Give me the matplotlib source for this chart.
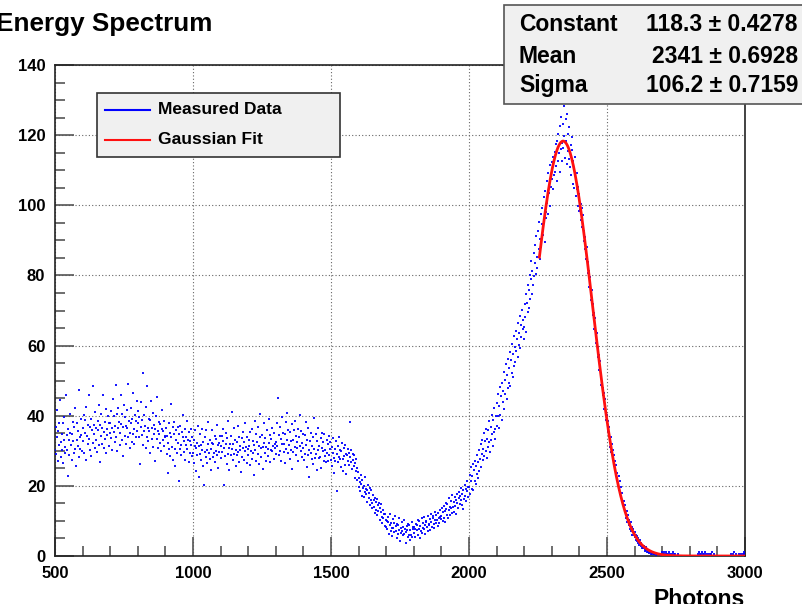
import numpy as np
import matplotlib
matplotlib.use("Agg")
import matplotlib.pyplot as plt
from matplotlib.patches import Rectangle
from matplotlib.lines import Line2D

plt.rcParams['font.family'] = ['Liberation Sans', 'DejaVu Sans']
plt.rcParams['font.weight'] = 'bold'

# bin width 2 photons, one row per 100 photons (500 ... 2998)
bin_start, bin_width = 500, 2
flat_region = [
    [30.3, 36.8, 29.1, 41.6, 33.9, 27.2, 35.5, 38.0, 31.7, 44.4, 32.6, 28.1, 34.9, 30.3, 37.8, 26.5, 33.2, 39.7, 31.0, 29.4, 45.9, 34.6, 30.1, 36.3, 22.7,
     33.2, 28.8, 40.5, 35.0, 31.6, 27.4, 34.9, 38.1, 32.7, 29.3, 36.8, 42.2, 30.5, 25.6, 33.0, 37.9, 31.4, 35.7, 28.1, 47.3, 33.8, 30.5, 39.2, 34.6, 29.9],  # 500
    [36.6, 32.9, 40.2, 29.5, 35.0, 38.7, 27.4, 42.6, 34.1, 31.9, 37.3, 45.8, 33.5, 30.2, 36.7, 39.0, 28.4, 35.9, 48.6, 32.1, 37.3, 34.7, 41.2, 30.8, 36.5,
     33.0, 29.6, 38.4, 35.9, 43.1, 31.7, 37.3, 26.8, 34.2, 40.5, 36.6, 32.0, 45.9, 35.4, 30.7, 38.1, 33.3, 41.8, 29.5, 36.2, 34.6, 39.9, 31.3, 37.8, 35.1],  # 600
    [38.0, 33.7, 41.4, 36.6, 30.1, 44.9, 35.3, 39.8, 32.5, 37.2, 48.7, 34.0, 40.4, 29.9, 36.6, 42.1, 38.3, 31.7, 35.2, 45.8, 37.5, 33.0, 40.6, 28.4, 36.9,
     43.1, 39.7, 34.3, 31.8, 37.2, 41.5, 36.6, 49.0, 33.9, 38.4, 30.7, 35.1, 42.3, 37.8, 32.5, 39.2, 46.6, 34.9, 36.3, 31.8, 40.1, 38.6, 33.9, 44.2, 35.5],  # 700
    [37.9, 41.3, 33.8, 39.5, 26.2, 36.7, 44.0, 34.4, 38.9, 31.6, 52.1, 40.3, 35.7, 37.2, 30.8, 42.5, 34.0, 48.6, 36.4, 32.9, 39.1, 35.7, 29.3, 38.8, 44.2,
     33.5, 36.6, 31.0, 40.9, 37.4, 34.7, 27.1, 36.3, 39.8, 33.5, 45.2, 35.6, 30.9, 38.3, 34.8, 32.1, 37.6, 29.9, 36.2, 41.5, 33.0, 35.7, 31.4, 38.6, 34.1],  # 800
    [33.9, 36.6, 29.1, 34.3, 23.7, 32.2, 37.8, 30.5, 35.0, 28.6, 43.4, 33.9, 31.1, 36.7, 27.3, 34.8, 38.2, 30.5, 25.6, 33.0, 35.9, 29.4, 36.7, 32.1, 21.3,
     34.8, 30.5, 37.2, 31.6, 28.9, 35.3, 33.8, 40.1, 29.6, 32.9, 36.2, 27.5, 34.0, 31.7, 38.4, 30.6, 33.1, 26.9, 35.3, 32.8, 29.5, 36.2, 31.7, 34.0, 28.4],  # 900
    [29.5, 33.0, 26.6, 31.4, 35.9, 24.1, 30.7, 32.3, 28.8, 37.2, 31.5, 22.6, 29.0, 34.9, 27.4, 31.7, 30.1, 36.3, 25.8, 32.5, 20.2, 29.6, 33.9, 28.3, 35.8,
     30.1, 26.6, 31.9, 38.2, 29.5, 33.0, 27.7, 30.4, 24.6, 32.1, 35.9, 28.3, 31.8, 29.5, 34.2, 26.7, 30.0, 33.3, 37.4, 28.9, 31.6, 25.1, 32.3, 29.7, 34.2],  # 1000
    [31.4, 27.9, 34.2, 29.6, 36.1, 32.7, 20.3, 30.8, 28.5, 35.0, 31.9, 26.2, 33.6, 29.1, 38.4, 30.7, 24.5, 32.0, 28.8, 34.3, 30.6, 41.2, 27.4, 31.9, 29.0,
     36.5, 33.2, 25.7, 30.3, 28.9, 32.4, 37.1, 29.6, 26.8, 34.0, 31.5, 30.2, 23.9, 33.7, 28.1, 35.4, 30.9, 27.3, 32.6, 38.0, 29.8, 31.2, 26.5, 33.9, 30.4],  # 1100
    [28.7, 33.1, 31.5, 25.9, 35.3, 30.0, 27.6, 36.2, 32.8, 29.4, 23.1, 31.7, 38.5, 30.3, 34.9, 27.0, 32.6, 29.2, 36.8, 31.4, 26.1, 33.9, 40.5, 30.7, 28.2,
     34.6, 31.0, 24.8, 32.3, 37.9, 29.5, 33.7, 27.2, 31.1, 35.8, 30.4, 28.6, 39.0, 32.2, 26.9, 34.5, 30.1, 33.4, 29.8, 36.6, 31.3, 27.7, 35.2, 30.9, 32.0],  # 1200
    [32.6, 29.2, 37.9, 31.3, 45.1, 28.7, 34.4, 30.0, 36.8, 33.5, 27.1, 31.9, 39.6, 35.2, 29.7, 32.0, 26.4, 34.8, 38.3, 30.5, 33.1, 40.9, 29.4, 36.0, 31.6,
     27.8, 35.3, 32.9, 30.2, 37.5, 24.7, 33.0, 29.6, 35.8, 31.1, 38.4, 28.9, 34.2, 32.5, 30.7, 36.3, 27.0, 33.8, 40.2, 31.4, 29.9, 35.6, 32.1, 28.3, 34.7],  # 1300
    [30.9, 27.3, 34.6, 29.0, 38.2, 31.7, 25.4, 33.1, 28.8, 36.5, 30.2, 22.6, 32.9, 29.4, 35.0, 27.7, 31.3, 33.8, 26.1, 30.6, 39.3, 28.0, 34.7, 29.2, 24.5,
     32.8, 30.1, 36.4, 27.9, 31.5, 28.3, 33.6, 25.0, 30.7, 35.2, 29.9, 32.4, 27.1, 34.8, 28.6, 30.3, 26.7, 33.0, 29.5, 31.8, 27.2, 34.1, 28.9, 30.4, 32.6],  # 1400
    [27.5, 31.2, 25.8, 29.3, 33.6, 28.0, 23.7, 30.4, 27.1, 32.9, 18.6, 29.2, 26.8, 31.5, 28.3, 34.0, 27.7, 30.1, 25.4, 29.9, 32.2, 27.6, 24.3, 30.8, 28.5,
     26.0, 31.7, 29.1, 23.4, 28.8, 27.2, 30.6, 25.9, 29.5, 38.3, 28.1, 26.7, 30.2, 24.9, 27.4, 29.0, 25.6, 28.7, 22.3, 26.5, 24.1, 27.8, 21.6, 25.2, 23.9],  # 1500
]
dip_region = [
    [22.3, 19.7, 21.1, 18.5, 23.0, 20.6, 17.2, 21.8, 19.4, 16.9, 20.1, 18.3, 22.6, 17.7, 19.0, 15.4, 18.8, 20.2, 16.5, 17.9, 14.6, 19.3, 16.0, 18.7, 15.2,
     13.8, 17.4, 15.9, 14.1, 16.6, 12.3, 15.5, 13.0, 16.2, 11.7, 14.4, 12.9, 15.1, 13.6, 10.2, 12.5, 14.8, 11.1, 9.4, 13.2, 10.7, 12.0, 8.6, 11.9, 10.3],  # 1600
    [8.4, 10.1, 7.6, 11.2, 9.8, 6.3, 8.9, 12.0, 7.2, 9.5, 5.7, 8.1, 10.6, 7.9, 9.3, 6.8, 11.4, 8.6, 7.0, 5.2, 9.1, 8.7, 6.4, 10.9, 7.5,
     4.3, 8.0, 6.6, 9.7, 7.1, 5.9, 8.3, 6.2, 10.4, 7.8, 3.6, 6.9, 8.5, 7.3, 5.5, 9.2, 6.0, 8.8, 4.7, 7.4, 6.1, 9.6, 5.3, 7.7, 8.2],  # 1700
    [6.5, 8.2, 7.8, 5.4, 9.1, 7.3, 8.7, 6.0, 10.4, 7.6, 9.9, 5.2, 8.5, 7.1, 10.8, 6.6, 9.3, 8.0, 7.7, 11.2, 8.9, 6.3, 9.6, 10.1, 8.4,
     7.0, 11.5, 9.2, 8.8, 10.6, 7.4, 12.1, 9.7, 8.3, 10.9, 11.3, 9.0, 7.9, 10.2, 12.6, 9.5, 11.8, 10.3, 8.6, 12.4, 10.7, 9.4, 13.2, 11.0, 10.5],  # 1800
    [11.3, 13.8, 10.1, 12.6, 14.2, 10.7, 12.9, 9.8, 13.4, 15.1, 11.6, 14.7, 10.9, 13.2, 16.4, 11.8, 14.0, 13.6, 15.7, 12.2, 17.3, 13.9, 12.5, 15.4, 16.8,
     14.3, 11.9, 16.1, 15.0, 17.6, 13.7, 16.5, 18.2, 14.8, 17.1, 15.9, 19.4, 14.6, 17.8, 13.5, 18.7, 16.2, 20.3, 17.0, 15.6, 19.1, 18.4, 21.5, 16.9, 19.8],  # 1900
]
peak_region = [
    [19.6, 23.2, 17.8, 21.4, 25.3, 19.1, 22.8, 26.1, 18.7, 24.5, 21.3, 27.2, 20.6, 25.8, 23.4, 28.9, 22.1, 26.7, 30.3, 24.2, 27.6, 31.8, 25.4, 29.1, 33.2,
     27.3, 30.6, 35.1, 28.4, 32.7, 36.3, 29.8, 33.5, 27.9, 35.8, 31.2, 38.4, 32.6, 29.7, 36.9, 33.1, 40.2, 34.8, 31.5, 38.7, 35.3, 42.1, 36.2, 33.4, 39.8],  # 2000
    [37.2, 43.5, 39.8, 46.1, 36.4, 42.7, 48.3, 40.1, 45.6, 38.9, 49.2, 43.8, 47.1, 52.6, 41.9, 50.3, 46.2, 54.8, 44.7, 51.5, 47.8, 56.2, 49.4, 53.7, 58.1,
     48.6, 55.9, 52.3, 60.4, 51.1, 57.6, 62.8, 54.2, 59.7, 55.3, 64.1, 58.4, 61.9, 56.8, 66.3, 60.2, 63.7, 68.5, 59.3, 65.8, 62.4, 70.1, 64.6, 67.2, 61.8],  # 2100
    [65.3, 71.8, 68.2, 74.6, 63.9, 72.1, 77.4, 69.5, 75.8, 70.7, 80.2, 73.4, 78.9, 84.1, 74.6, 81.3, 77.2, 86.5, 79.8, 83.6, 88.7, 80.4, 91.2, 85.3, 82.1,
     92.6, 87.4, 95.1, 84.8, 90.3, 97.6, 88.2, 94.7, 99.3, 91.5, 102.4, 95.8, 89.6, 104.1, 98.2, 96.3, 106.8, 100.7, 97.4, 109.2, 103.5, 99.8, 111.6, 105.2, 108.3],  # 2200
    [107.4, 112.3, 104.6, 113.8, 108.7, 115.2, 109.4, 117.6, 111.3, 106.9, 118.4, 112.7, 120.3, 114.8, 109.6, 122.5, 116.1, 125.3, 117.8, 112.6, 123.1, 116.4, 128.2, 119.7, 113.5,
     124.6, 118.2, 111.8, 126.1, 115.4, 120.2, 113.1, 122.4, 110.9, 117.3, 108.6, 115.8, 119.5, 106.2, 112.7, 110.4, 104.8, 113.9, 107.5, 102.6, 109.3, 104.7, 99.8, 105.1, 98.4],  # 2300
    [103.2, 98.6, 100.4, 95.7, 99.3, 93.8, 97.1, 94.6, 89.8, 92.7, 87.6, 90.9, 84.8, 88.2, 85.6, 80.7, 83.9, 81.4, 76.8, 79.6, 77.5, 72.9, 75.8, 73.6, 68.7,
     71.8, 69.4, 64.6, 67.9, 65.8, 60.7, 63.5, 61.6, 56.8, 59.7, 57.4, 52.9, 55.6, 53.8, 48.7, 51.6, 49.5, 45.8, 47.9, 46.6, 41.8, 44.7, 42.6, 38.7, 40.8],  # 2400
    [40.2, 35.7, 38.4, 34.6, 36.8, 32.7, 31.2, 33.8, 29.6, 31.9, 27.8, 30.3, 26.6, 28.7, 24.8, 27.1, 23.6, 25.9, 21.7, 23.8, 20.6, 22.9, 18.8, 21.3, 17.6,
     19.8, 16.7, 15.8, 17.9, 14.6, 13.8, 15.7, 12.9, 14.6, 11.8, 10.9, 12.7, 9.8, 11.6, 8.9, 10.2, 7.8, 9.1, 9.6, 7.2, 8.3, 6.1, 7.7, 6.8, 5.9],  # 2500
]
tail_region = [
    [6.8, 5.3, 6.1, 4.7, 5.6, 4.2, 5.1, 3.8, 3.2, 4.6, 3.7, 2.9, 3.8, 2.4, 3.1, 2.7, 2.2, 2.9, 1.4, 2.1, 1.8, 2.6, 1.2, 1.9, 1.1,
     1.6, 0.9, 1.2, 1.5, 0.5, 1.0, 0.8, 0.5, 0.9, 0, 0.7, 0.5, 0.8, 0, 0.4, 0.6, 0, 0.5, 0, 0.6, 0, 0.4, 0, 0, 0.5],  # 2600
    [1, 0.5, 0, 1, 0.5, 0, 0.5, 1, 0, 0.5, 0, 0.5, 1, 0, 0.5, 0, 0, 0.5, 0, 1, 0, 0.5, 0, 0, 0.5,
     0, 0, 0, 0.5, 0, 0, 0, 0, 0, 0, 0, 0, 0, 0, 0, 0, 0, 0, 0, 0, 0, 0, 0, 0, 0],  # 2700
    [0, 0, 0, 0, 0, 0, 0, 0, 0, 0, 0, 0, 0, 0, 0, 0.5, 0, 1, 0, 0.5, 0.5, 0, 1, 0, 0.5,
     0, 0.5, 0, 1, 0, 0.5, 0, 0, 0.5, 0, 0, 0.5, 0, 0.5, 0, 0, 1, 0, 0, 0.5, 0, 0, 0, 0, 0],  # 2800
    [0, 0, 0, 0, 0, 0, 0, 0, 0, 0, 0, 0, 0, 0, 0, 0, 0, 0, 0, 0, 0, 0, 0, 0, 0,
     0.5, 0, 0, 0.5, 0, 1, 0, 0, 0, 0.5, 0, 0, 0, 0, 0.5, 0, 0, 0, 0.5, 0, 0, 0.5, 0, 1, 0.5],  # 2900
]

# fit result (from the stats box)
fit_names = ["Constant", "Mean", "Sigma"]
fit_values = [118.3, 2341, 106.2]
fit_errors = [0.4278, 0.6928, 0.7159]
fit_range = (2255, 3000)

counts = np.array(sum(flat_region + dip_region + peak_region + tail_region, []), dtype=float)
photons = bin_start + bin_width * np.arange(len(counts))

fig = plt.figure(figsize=(8.03, 6.04), dpi=100)
ax = fig.add_axes([55 / 803, 48 / 604, 690 / 803, 491 / 604])

mask = counts > 0
ax.plot(photons[mask], counts[mask], 's', ms=2.0, mew=0, color='#0000ff', alpha=0.9, zorder=3)

const, mean, sigma = fit_values
fx = np.linspace(fit_range[0], fit_range[1], 400)
fy = const * np.exp(-0.5 * ((fx - mean) / sigma) ** 2)
ax.plot(fx, fy, color='#ff1010', lw=2.0, zorder=4)

ax.set_xlim(500, 3000)
ax.set_ylim(0, 140)
ax.set_xticks([500, 1000, 1500, 2000, 2500, 3000])
ax.set_xticks(np.arange(600, 3000, 100), minor=True)
ax.set_yticks(np.arange(0, 141, 20))
ax.set_yticks(np.arange(0, 141, 5), minor=True)
ax.tick_params(which='both', direction='in', top=False, right=False, colors='#555555',
               labelcolor='black', labelsize=12)
ax.tick_params(which='major', length=14, width=1.2, pad=7)
ax.tick_params(which='minor', length=7, width=1.2)
ax.grid(True, which='major', linestyle=(0, (1, 2)), color='#666666', lw=0.8)
for s in ax.spines.values():
    s.set_linewidth(1.2)
    s.set_color('#222222')
for lab in ax.get_xticklabels() + ax.get_yticklabels():
    lab.set_fontweight('bold')

ax.set_xlabel("Photons", fontsize=16.5, fontweight='bold', loc='right', labelpad=5)

fig.text(-0.005, 1 - 31 / 604, "Energy Spectrum", fontsize=18.8, fontweight='bold',
         ha='left', va='baseline')

# legend box
fig.patches.append(Rectangle((97 / 803, 1 - 157 / 604), 243 / 803, 64 / 604,
                             transform=fig.transFigure, facecolor='#f0f0f0',
                             edgecolor='#333333', lw=1.2, zorder=10))
for yy, col, lab in [(110, '#0000ff', "Measured Data"), (140, '#ff1010', "Gaussian Fit")]:
    fig.lines.append(Line2D([105 / 803, 150 / 803], [1 - yy / 604] * 2, color=col, lw=1.5,
                            transform=fig.transFigure, zorder=11))
    fig.text(158 / 803, 1 - yy / 604, lab, fontsize=12.5, fontweight='bold',
             ha='left', va='center', zorder=11)

# stats box
fig.patches.append(Rectangle((504 / 803, 1 - 104 / 604), 320 / 803, 99 / 604,
                             transform=fig.transFigure, facecolor='#f0f0f0',
                             edgecolor='#555555', lw=1.2, zorder=10))
for yy, name, val, err in zip([31, 63, 92], fit_names, fit_values, fit_errors):
    fig.text(519 / 803, 1 - yy / 604, name, fontsize=16.5, fontweight='bold',
             ha='left', va='baseline', zorder=11)
    fig.text(798 / 803, 1 - yy / 604, f"{val:g} \u00b1 {err:g}", fontsize=16.5,
             fontweight='bold', ha='right', va='baseline', zorder=11)

fig.savefig("out.png", dpi=100)
